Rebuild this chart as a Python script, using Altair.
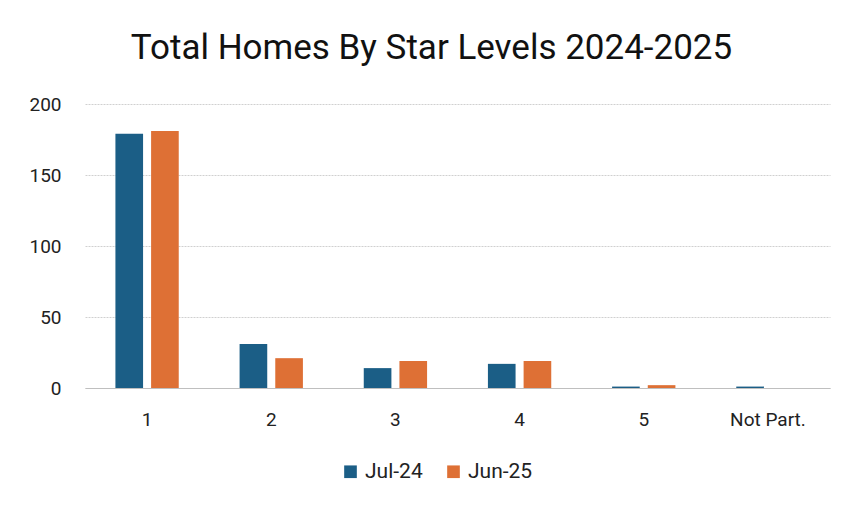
import altair as alt
import pandas as pd

categories = ["1", "2", "3", "4", "5", "Not Part."]
jul24 = [179, 31, 14, 17, 1, 1]
jun25 = [181, 21, 19, 19, 2, 0]
series = ["Jul-24", "Jun-25"]
colors = ["#1B5E86", "#DE7035"]

rows = []
for c, a, b in zip(categories, jul24, jun25):
    rows.append({"cat": c, "series": "Jul-24", "value": a})
    rows.append({"cat": c, "series": "Jun-25", "value": b})
df = pd.DataFrame(rows)

FONT = "Roboto"

bars = alt.Chart(df).mark_bar().encode(
    x=alt.X("cat:N", sort=categories, title=None,
            scale=alt.Scale(paddingInner=0.49, paddingOuter=0.245),
            axis=alt.Axis(labelAngle=0, labelFontSize=19, labelColor="#222222",
                          labelFont=FONT, labelPadding=22, ticks=False,
                          domainColor="#bfbfbf", domainWidth=1.2)),
    xOffset=alt.XOffset("series:N", sort=series,
                        scale=alt.Scale(paddingInner=0.225, paddingOuter=0)),
    y=alt.Y("value:Q", title=None,
            scale=alt.Scale(domain=[0, 200]),
            axis=alt.Axis(values=[0, 50, 100, 150, 200], labelFontSize=19,
                          labelColor="#222222", labelFont=FONT, labelPadding=24,
                          ticks=False, domain=False, gridColor="#d0d0d0",
                          gridDash=[2, 1], gridWidth=1)),
    color=alt.Color("series:N", sort=series,
                    scale=alt.Scale(domain=series, range=colors),
                    legend=alt.Legend(orient="none", direction="horizontal",
                                      legendX=255, legendY=357, title=None,
                                      symbolType="square", symbolSize=160,
                                      labelFontSize=21, labelFont=FONT,
                                      labelColor="#222222", columnPadding=20,
                                      symbolStrokeWidth=0)),
)

chart = bars.properties(
    width=745,
    height=284,
    autosize=alt.AutoSizeParams(type="none"),
    padding={"left": 77, "top": 96, "right": 16, "bottom": 110},
    title=alt.TitleParams("Total Homes By Star Levels 2024-2025", fontSize=35,
                          font=FONT, fontWeight="normal", color="#111111",
                          anchor="middle", dx=-26, offset=29),
).configure(background="#ffffff", view=alt.ViewConfig(strokeWidth=0, stroke="transparent"))

chart.save("out.html", embed_options={"renderer": "svg", "actions": False})
